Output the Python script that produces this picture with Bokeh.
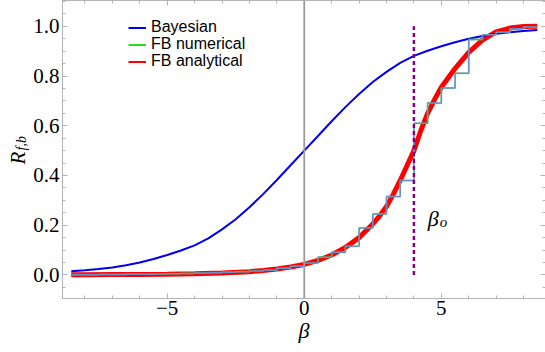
from math import pi
from bokeh.plotting import figure
from bokeh.layouts import row
from bokeh.core.properties import value
from bokeh.models import (Span, Label, Legend, LegendItem, LinearAxis, SingleIntervalTicker,
                          PrintfTickFormatter, CustomJSTickFormatter, Range1d)
from bokeh.embed import file_html
from bokeh.resources import INLINE

# ---------------- data ----------------
beta_bayes = [-8.5, -8, -7.5, -7, -6.5, -6, -5.5, -5, -4.5, -4, -3.5, -3, -2.5, -2,
              -1.5, -1, -0.5, 0, 0.5, 1, 1.5, 2, 2.5, 3, 3.5, 4, 4.5, 5, 5.5, 6,
              6.5, 7, 7.5, 8, 8.5]
r_bayesian = [0.0145, 0.019, 0.024, 0.030, 0.039, 0.050, 0.064, 0.080, 0.098, 0.119,
              0.147, 0.183, 0.224, 0.272, 0.325, 0.382, 0.441, 0.500, 0.559, 0.618,
              0.675, 0.728, 0.776, 0.817, 0.853, 0.881, 0.902, 0.920, 0.936, 0.950,
              0.961, 0.970, 0.976, 0.981, 0.9855]

beta_fb = [-8.5, -8, -7, -6, -5, -4, -3, -2, -1.5, -1, -0.5, 0, 0.5, 1, 1.5, 2,
           2.5, 2.75, 3, 3.25, 3.5, 3.75, 4, 4.25, 4.5, 4.75, 5, 5.5, 6, 6.5, 7,
           7.5, 8, 8.5]
r_fb_analytical = [0.0005, 0.001, 0.0015, 0.002, 0.003, 0.005, 0.008, 0.013, 0.018,
                   0.024, 0.032, 0.042, 0.058, 0.080, 0.110, 0.150, 0.205, 0.237,
                   0.275, 0.325, 0.380, 0.440, 0.500, 0.580, 0.650, 0.705, 0.755,
                   0.830, 0.895, 0.945, 0.978, 0.993, 0.999, 1.000]

beta_steps = [-8.5, -8, -7.5, -7, -6.5, -6, -5.5, -5, -4.5, -4, -3.5, -3, -2.5, -2,
              -1.5, -1, -0.5, 0, 0.5, 1, 1.5, 2, 2.5, 3, 3.5, 4, 4.5, 5, 5.5, 6,
              6.5, 7, 7.5, 8, 8.5]
r_fb_numerical = [0.001, 0.001, 0.002, 0.002, 0.003, 0.003, 0.004, 0.005, 0.006, 0.008,
                  0.009, 0.011, 0.013, 0.016, 0.019, 0.027, 0.035, 0.048, 0.071, 0.091,
                  0.115, 0.189, 0.245, 0.315, 0.380, 0.610, 0.692, 0.752, 0.811, 0.947,
                  0.966, 0.976, 0.990, 0.997, 0.997]

beta_o = 4.0
beta_o_top = 1.0
beta_o_bottom = 0.0

series_names = ["Bayesian", "FB numerical", "FB analytical"]
y_label_main = "R"
y_label_sub = "f,b"

# ---------------- y-axis title strip (own small figure) ----------------
LW, H = 30, 352
lab = figure(frame_width=LW, frame_height=H, x_range=Range1d(0, LW), y_range=Range1d(0, H),
             output_backend="svg", toolbar_location=None, min_border=0,
             x_axis_location=None, y_axis_location=None)
lab.outline_line_color = None
lab.xgrid.visible = False
lab.ygrid.visible = False
lab.background_fill_color = "white"
lab.border_fill_color = "white"
lab.text(x=[17], y=[H - 164], text=[y_label_main], angle=pi / 2,
         text_font=value("Liberation Serif"), text_font_style="italic",
         text_font_size="21px", text_align="left", text_baseline="alphabetic",
         text_color="black")
lab.text(x=[20.5], y=[H - 150], text=[y_label_sub], angle=pi / 2,
         text_font=value("Liberation Serif"), text_font_style="italic",
         text_font_size="14px", text_align="left", text_baseline="alphabetic",
         text_color="black")

# ---------------- main figure ----------------
FRAME_GRAY = "#b4b4b4"

p = figure(frame_width=483, frame_height=298,
           x_range=Range1d(-8.82, 8.80), y_range=Range1d(-0.095, 1.104),
           output_backend="svg", toolbar_location=None,
           min_border_left=31, min_border_right=1, min_border_top=0,
           min_border_bottom=54, x_axis_location=None, y_axis_location=None)
p.background_fill_color = "white"
p.border_fill_color = "white"
p.outline_line_color = FRAME_GRAY
p.outline_line_width = 1
p.xgrid.visible = False
p.ygrid.visible = False

def style_axis(ax, show_labels):
    ax.axis_line_color = FRAME_GRAY
    ax.major_tick_line_color = FRAME_GRAY
    ax.minor_tick_line_color = FRAME_GRAY
    ax.major_tick_in = 5
    ax.major_tick_out = 0
    ax.minor_tick_in = 3
    ax.minor_tick_out = 0
    if show_labels:
        ax.major_label_text_font = "Liberation Serif"
        ax.major_label_text_font_size = "21px"
        ax.major_label_text_color = "black"
    else:
        ax.major_label_text_font_size = "1px"
        ax.major_label_text_color = None
        ax.major_label_standoff = 0

x_fmt = CustomJSTickFormatter(code="return tick < 0 ? '\\u2212' + Math.abs(tick) : tick.toString();")

xb = LinearAxis(ticker=SingleIntervalTicker(interval=5, num_minor_ticks=5), formatter=x_fmt)
style_axis(xb, True)
xb.major_label_standoff = 2
xb.axis_label = "β"
xb.axis_label_text_font = "Liberation Serif"
xb.axis_label_text_font_style = "italic"
xb.axis_label_text_font_size = "22px"
xb.axis_label_text_color = "black"
xb.axis_label_standoff = 0
p.add_layout(xb, "below")

xt = LinearAxis(ticker=SingleIntervalTicker(interval=5, num_minor_ticks=5))
style_axis(xt, False)
p.add_layout(xt, "above")

yl = LinearAxis(ticker=SingleIntervalTicker(interval=0.2, num_minor_ticks=4),
                formatter=PrintfTickFormatter(format="%.1f"))
style_axis(yl, True)
yl.major_label_standoff = 3
p.add_layout(yl, "left")

yr = LinearAxis(ticker=SingleIntervalTicker(interval=0.2, num_minor_ticks=4))
style_axis(yr, False)
p.add_layout(yr, "right")

# vertical axis line at beta = 0
p.add_layout(Span(location=0, dimension="height", line_color="#9a9a9a", line_width=1.8))

# ---------------- data renderers ----------------
r_red_leg = p.line(beta_fb, r_fb_analytical, line_color="#ff0000", line_width=2)
p.line(beta_fb, r_fb_analytical, line_color="#ff0000", line_width=5)
r_bay = p.line(beta_bayes, r_bayesian, line_color="#0000ee", line_width=2)
p.step(beta_steps, r_fb_numerical, mode="after", line_color="#22dd22",
       line_width=1.8, line_alpha=0.55)
p.step(beta_steps, r_fb_numerical, mode="after", line_color="#6a8fc8", line_width=1.5)
p.segment(x0=[beta_o], y0=[beta_o_bottom], x1=[beta_o], y1=[beta_o_top],
          line_color="#800080", line_width=2.5, line_dash="4 3")

# legend-only glyph for the green entry (full opacity)
r_green_leg = p.line([beta_steps[0]], [r_fb_numerical[0]], line_color="#22dd22", line_width=2)

# ---------------- legend (one box per row, for exact row placement) ----------------
leg_renderers = [r_bay, r_green_leg, r_red_leg]
leg_rows_from_bottom = [262, 245, 228]
for name, rend, yloc in zip(series_names, leg_renderers, leg_rows_from_bottom):
    lg = Legend(items=[LegendItem(label=name, renderers=[rend])], location=(66, yloc))
    lg.border_line_color = None
    lg.background_fill_alpha = 0
    lg.padding = 0
    lg.margin = 0
    lg.spacing = 0
    lg.glyph_width = 18
    lg.glyph_height = 17
    lg.label_height = 17
    lg.label_standoff = 5
    lg.label_text_font = "Liberation Sans"
    lg.label_text_font_size = "16px"
    lg.label_text_color = "black"
    p.add_layout(lg, "center")

# ---------------- beta_o annotation ----------------
p.add_layout(Label(x=beta_o + 0.5, y=0.227, text="β", text_font="Liberation Serif",
                   text_font_style="italic", text_font_size="22px",
                   text_align="left", text_baseline="alphabetic", text_color="black"))
p.add_layout(Label(x=beta_o + 0.5, y=0.227, x_offset=12, y_offset=-4, text="o",
                   text_font="Liberation Serif", text_font_style="italic",
                   text_font_size="15px", text_align="left",
                   text_baseline="alphabetic", text_color="black"))

layout = row(lab, p, spacing=0)
open("out.html", "w").write(file_html(layout, INLINE))
